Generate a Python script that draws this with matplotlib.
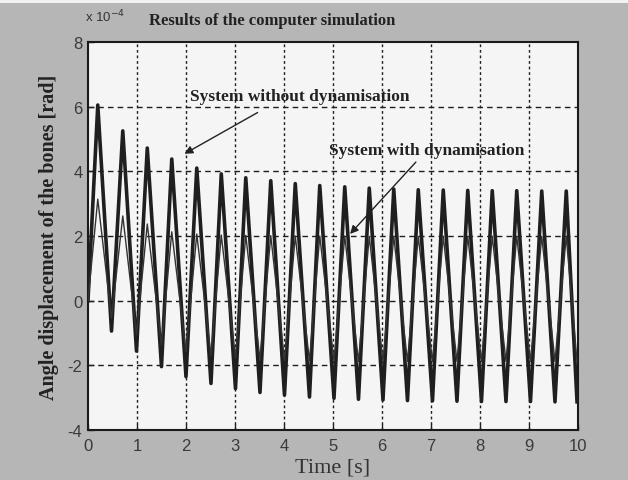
import matplotlib.pyplot as plt
import matplotlib.patches as patches

# ---- values (angle in units of 1e-4 rad) ----
t_peaks = [0.20, 0.71, 1.21, 1.71, 2.22, 2.72, 3.22, 3.73, 4.23, 4.73,
           5.24, 5.74, 6.24, 6.74, 7.25, 7.75, 8.25, 8.75, 9.26, 9.76]
t_troughs = [0.48, 0.99, 1.50, 2.00, 2.51, 3.01, 3.51, 4.01, 4.52, 5.02,
             5.52, 6.02, 6.52, 7.03, 7.53, 8.03, 8.53, 9.03, 9.53, 9.98]

# System without dynamisation (heavy line)
nodyn_peaks = [6.05, 5.25, 4.72, 4.38, 4.10, 3.92, 3.80, 3.71, 3.62, 3.56,
               3.52, 3.48, 3.45, 3.43, 3.42, 3.41, 3.40, 3.40, 3.39, 3.39]
nodyn_troughs = [-0.94, -1.56, -2.04, -2.35, -2.56, -2.72, -2.84, -2.92, -2.98, -3.02,
                 -3.05, -3.07, -3.09, -3.10, -3.11, -3.12, -3.12, -3.12, -3.13, -3.13]

# System with dynamisation (thin line)
dyn_peaks = [3.14, 2.62, 2.37, 2.13, 2.06, 2.03, 2.02, 2.01, 2.00, 2.00,
             2.00, 1.99, 1.99, 1.99, 1.99, 1.99, 1.99, 1.99, 1.99, 1.99]
dyn_troughs = [-0.55, -1.05, -1.38, -1.58, -1.70, -1.77, -1.82, -1.85, -1.86, -1.87,
               -1.88, -1.88, -1.88, -1.88, -1.88, -1.88, -1.88, -1.88, -1.88, -1.88]

x_ticks = list(range(0, 11))
y_ticks = [-4, -2, 0, 2, 4, 6, 8]


def zigzag(peaks, troughs):
    t, v = [0.0], [0.0]
    for tp, p, tt, tr in zip(t_peaks, peaks, t_troughs, troughs):
        t += [tp, tt]
        v += [p, tr]
    return t, v


t_nd, v_nd = zigzag(nodyn_peaks, nodyn_troughs)
t_d, v_d = zigzag(dyn_peaks, dyn_troughs)

fig = plt.figure(figsize=(6.28, 4.81), dpi=100)
fig.patch.set_facecolor('#b6b6b6')
# thin white scan strip at the very top
fig.patches.append(patches.Rectangle((0, 0.991), 1, 0.009, transform=fig.transFigure,
                                     facecolor='#f2f2f2', edgecolor='none'))

ax = fig.add_axes([0.1401, 0.1040, 0.7803, 0.8066])
ax.set_facecolor('#f5f5f5')

ax.plot(t_nd, v_nd, color='#1f1f1f', linewidth=2.6, zorder=3)
ax.plot(t_d, v_d, color='#333333', linewidth=1.0, zorder=4)

ax.set_xlim(0, 10)
ax.set_ylim(-4, 8)
ax.set_xticks(x_ticks)
ax.set_yticks(y_ticks)
ax.set_xticklabels([str(v) for v in x_ticks], family='Liberation Sans', fontsize=12, color='#3a3a3a')
ax.set_yticklabels([str(v) for v in y_ticks], family='Liberation Sans', fontsize=12, color='#3a3a3a')
ax.tick_params(direction='in', length=4, width=1, colors='#222222', labelcolor='#3a3a3a')
ax.tick_params(axis='x', pad=6)
ax.tick_params(axis='y', pad=4)

for xv in x_ticks[1:-1]:
    ax.axvline(xv, color='#1e1e1e', linewidth=1.0, linestyle=(0, (2, 2)), zorder=1)
for yv in y_ticks[1:-1]:
    ax.axhline(yv, color='#1e1e1e', linewidth=1.0, linestyle=(0, (4, 3)), zorder=1)

for sp in ax.spines.values():
    sp.set_linewidth(1.5)
    sp.set_color('#1a1a1a')

serif = 'Liberation Serif'
ax.set_xlabel('Time [s]', family=serif, fontsize=16, color='#333333', labelpad=3)
ax.set_ylabel('Angle displacement of the bones [rad]', family=serif, fontsize=14.5,
              fontweight='bold', color='#222222', labelpad=6)
fig.text(0.433, 0.957, 'Results of the computer simulation', family=serif, fontsize=12,
         fontweight='bold', color='#222222', ha='center', va='center')
fig.text(0.135, 0.965, 'x 10$^{-4}$', family='Liberation Sans', fontsize=9.5,
         color='#333333', ha='left', va='center')

# annotations
ax.text(4.33, 6.33, 'System without dynamisation', family=serif, fontsize=12.5,
        fontweight='bold', color='#222222', ha='center', va='center', zorder=6)
ax.annotate('', xy=(1.92, 4.50), xytext=(3.51, 5.86),
            arrowprops=dict(arrowstyle='-|>', color='#222222', lw=1.0, mutation_scale=12),
            zorder=6)
ax.text(6.92, 4.66, 'System with dynamisation', family=serif, fontsize=12.5,
        fontweight='bold', color='#222222', ha='center', va='center', zorder=6)
ax.annotate('', xy=(5.31, 2.0), xytext=(6.73, 4.35),
            arrowprops=dict(arrowstyle='-|>', color='#222222', lw=1.0, mutation_scale=12),
            zorder=6)

fig.savefig('out.png', dpi=100, facecolor=fig.get_facecolor())
